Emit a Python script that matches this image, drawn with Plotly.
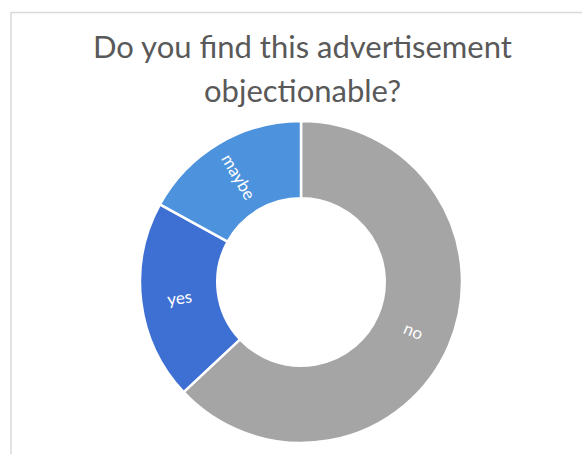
import math
import plotly.graph_objects as go

# Survey responses
answers = ["no", "yes", "maybe"]
shares = [63, 20, 17]
slice_colors = ["#A5A5A5", "#3E70D4", "#4C92DC"]

title_lines = ["Do you find this advertisement", "objectionable?"]

W, H = 582, 454
cx, cy, r = 301, 282, 161
hole = 0.52

fig = go.Figure(
    go.Pie(
        labels=answers,
        values=shares,
        sort=False,
        direction="clockwise",
        rotation=0,
        hole=hole,
        textinfo="none",
        marker=dict(colors=slice_colors, line=dict(color="white", width=2.5)),
        domain=dict(x=[(cx - r) / W, (cx + r) / W], y=[(H - cy - r) / H, (H - cy + r) / H]),
        showlegend=False,
        hoverinfo="label+value",
    )
)

# Slice labels, laid along the radius through each slice's middle
total = sum(shares)
start = 0.0
r_mid = r * (1 + hole) / 2
for name, v in zip(answers, shares):
    theta = (start + v / 2) / total * 360.0  # clockwise from 12 o'clock
    start += v
    px = cx + r_mid * math.sin(math.radians(theta))
    py = cy - r_mid * math.cos(math.radians(theta))
    ang = theta - 90.0
    if ang > 90:
        ang -= 180
    elif ang < -90:
        ang += 180
    fig.add_annotation(text=name, xref="paper", yref="paper",
                       x=px / W, y=1 - py / H, xanchor="center", yanchor="middle",
                       textangle=ang, showarrow=False,
                       font=dict(family="Lato, Open Sans, sans-serif", size=17, color="white"))

# Chart area frame
fig.add_shape(type="rect", xref="paper", yref="paper",
              x0=11 / W, x1=1.2, y0=-0.2, y1=1 - 12.5 / H,
              line=dict(color="#D9D9D9", width=1.5), layer="below")

for text, ypix in zip(title_lines, [46, 90]):
    fig.add_annotation(text=text, xref="paper", yref="paper",
                       x=302 / W, y=1 - ypix / H, xanchor="center", yanchor="middle",
                       showarrow=False,
                       font=dict(family="Lato, Open Sans, sans-serif", size=31, color="#595959"))

fig.update_layout(
    width=W, height=H,
    margin=dict(l=0, r=0, t=0, b=0),
    paper_bgcolor="white", plot_bgcolor="white",
)

fig.write_html("out.html")
